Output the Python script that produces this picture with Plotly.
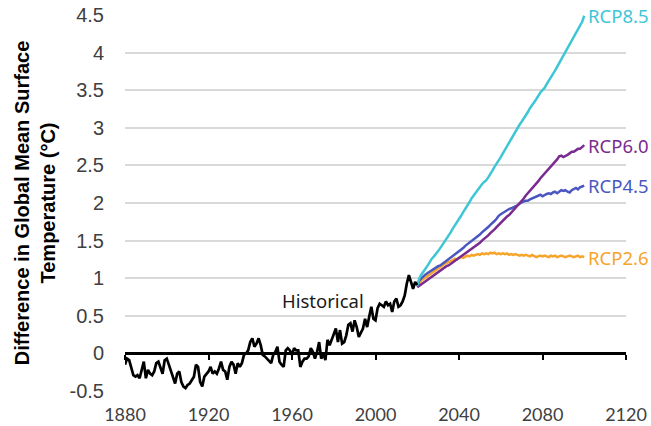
import plotly.graph_objects as go

# Observed global mean surface temperature anomaly, 1880-2020 (°C)
hist_years = list(range(1880, 2021))
hist_temp = [
    -0.15, -0.07, -0.09, -0.18, -0.29, -0.31, -0.29, -0.33, -0.20, -0.11,
    -0.33, -0.22, -0.27, -0.29, -0.24, -0.13, -0.11, -0.18, -0.27, -0.09,
    -0.07, -0.15, -0.24, -0.31, -0.40, -0.27, -0.24, -0.38, -0.44, -0.46,
    -0.42, -0.40, -0.35, -0.31, -0.15, -0.18, -0.38, -0.44, -0.31, -0.27,
    -0.24, -0.18, -0.27, -0.24, -0.27, -0.20, -0.11, -0.22, -0.24, -0.35,
    -0.18, -0.11, -0.15, -0.27, -0.13, -0.18, -0.13, -0.02, 0.00, 0.04,
    0.15, 0.20, 0.09, 0.13, 0.20, 0.11, -0.02, -0.04, -0.07, -0.09,
    -0.13, -0.02, 0.02, 0.09, -0.11, -0.15, -0.18, 0.04, 0.07, 0.04,
    -0.02, 0.07, 0.04, 0.04, -0.18, -0.11, -0.07, -0.07, -0.04, 0.07,
    0.02, -0.07, 0.02, 0.15, -0.07, 0.00, -0.09, 0.18, 0.11, 0.18,
    0.27, 0.33, 0.15, 0.31, 0.13, 0.15, 0.24, 0.38, 0.40, 0.29,
    0.44, 0.35, 0.22, 0.27, 0.33, 0.46, 0.35, 0.49, 0.62, 0.46,
    0.44, 0.60, 0.66, 0.64, 0.62, 0.69, 0.64, 0.66, 0.55, 0.69,
    0.73, 0.62, 0.64, 0.69, 0.77, 0.93, 1.04, 0.95, 0.86, 0.95,
    0.91,
]

# Projections under the four RCP pathways, 2020-2100 (°C)
proj_years = list(range(2020, 2101))
rcp85 = [
    0.90, 1.00, 1.05, 1.10, 1.13, 1.17, 1.22, 1.26, 1.29, 1.32,
    1.36, 1.40, 1.44, 1.48, 1.53, 1.57, 1.61, 1.66, 1.70, 1.75,
    1.79, 1.83, 1.88, 1.92, 1.97, 2.01, 2.06, 2.10, 2.14, 2.18,
    2.22, 2.25, 2.28, 2.30, 2.34, 2.38, 2.43, 2.48, 2.52, 2.56,
    2.61, 2.66, 2.71, 2.76, 2.81, 2.85, 2.89, 2.94, 2.99, 3.04,
    3.08, 3.12, 3.17, 3.21, 3.26, 3.31, 3.34, 3.38, 3.43, 3.47,
    3.50, 3.53, 3.58, 3.63, 3.67, 3.72, 3.76, 3.81, 3.86, 3.91,
    3.96, 4.01, 4.05, 4.11, 4.16, 4.21, 4.27, 4.32, 4.37, 4.41,
    4.49,
]
rcp60 = [
    0.88, 0.90, 0.93, 0.95, 0.97, 0.99, 1.01, 1.03, 1.05, 1.07,
    1.09, 1.10, 1.12, 1.14, 1.16, 1.17, 1.19, 1.21, 1.22, 1.24,
    1.26, 1.28, 1.30, 1.32, 1.34, 1.36, 1.38, 1.41, 1.43, 1.45,
    1.47, 1.50, 1.52, 1.55, 1.57, 1.60, 1.62, 1.65, 1.68, 1.71,
    1.74, 1.77, 1.79, 1.82, 1.84, 1.87, 1.90, 1.93, 1.96, 2.00,
    2.03, 2.06, 2.10, 2.13, 2.16, 2.20, 2.23, 2.26, 2.29, 2.33,
    2.36, 2.39, 2.42, 2.45, 2.48, 2.51, 2.55, 2.58, 2.62, 2.63,
    2.61, 2.62, 2.64, 2.66, 2.68, 2.68, 2.70, 2.72, 2.72, 2.75,
    2.77,
]
rcp45 = [
    0.90, 0.97, 1.00, 1.03, 1.05, 1.07, 1.09, 1.11, 1.12, 1.14,
    1.16, 1.17, 1.19, 1.21, 1.23, 1.25, 1.27, 1.30, 1.32, 1.34,
    1.36, 1.38, 1.40, 1.43, 1.45, 1.47, 1.50, 1.52, 1.54, 1.56,
    1.58, 1.61, 1.63, 1.66, 1.68, 1.71, 1.73, 1.76, 1.79, 1.83,
    1.85, 1.87, 1.89, 1.90, 1.92, 1.93, 1.94, 1.95, 1.97, 1.99,
    2.01, 2.02, 2.03, 2.03, 2.05, 2.06, 2.08, 2.09, 2.10, 2.11,
    2.09, 2.11, 2.12, 2.13, 2.12, 2.14, 2.15, 2.13, 2.15, 2.17,
    2.16, 2.17, 2.15, 2.14, 2.17, 2.19, 2.20, 2.18, 2.21, 2.22,
    2.23,
]
rcp26 = [
    0.90, 0.94, 0.97, 0.99, 1.01, 1.03, 1.05, 1.07, 1.09, 1.12,
    1.14, 1.15, 1.17, 1.19, 1.20, 1.21, 1.23, 1.24, 1.26, 1.25,
    1.27, 1.28, 1.27, 1.28, 1.30, 1.29, 1.31, 1.30, 1.31, 1.32,
    1.31, 1.33, 1.32, 1.33, 1.32, 1.34, 1.33, 1.34, 1.32, 1.33,
    1.32, 1.33, 1.32, 1.33, 1.31, 1.32, 1.31, 1.32, 1.31, 1.30,
    1.31, 1.30, 1.31, 1.30, 1.29, 1.31, 1.30, 1.28, 1.29, 1.30,
    1.29, 1.30, 1.29, 1.28, 1.30, 1.29, 1.30, 1.28, 1.29, 1.30,
    1.29, 1.28, 1.29, 1.30, 1.29, 1.28, 1.29, 1.30, 1.28, 1.29,
    1.28,
]

scenarios = [
    ("RCP8.5", rcp85, "#3fc6d6"),
    ("RCP6.0", rcp60, "#7a2b8f"),
    ("RCP4.5", rcp45, "#4a57c1"),
    ("RCP2.6", rcp26, "#f7a42a"),
]

x_ticks = [1880, 1920, 1960, 2000, 2040, 2080, 2120]
y_ticks = [-0.5, 0, 0.5, 1, 1.5, 2, 2.5, 3, 3.5, 4, 4.5]
y_tick_text = ["-0.5", "0", "0.5", "1", "1.5", "2", "2.5", "3", "3.5", "4", "4.5"]

label_font = "Noto Sans"
x_range = [1880, 2120]

fig = go.Figure()

# Projections on the labelled bottom axis
for name, values, color in reversed(scenarios):
    fig.add_trace(go.Scatter(
        x=proj_years, y=values, mode="lines", name=name,
        line=dict(color=color, width=2.5), showlegend=False,
    ))

# Observed record on the overlaid axis that crosses at zero
fig.add_trace(go.Scatter(
    x=hist_years, y=hist_temp, mode="lines", name="Historical",
    line=dict(color="#000000", width=2.7), showlegend=False,
    xaxis="x2", yaxis="y",
))

# End-of-line scenario labels
for name, values, color in scenarios:
    fig.add_annotation(
        x=proj_years[-1] + 1, y=values[-1], text=name, showarrow=False,
        xanchor="left", yanchor="middle", bgcolor="white",
        font=dict(family=label_font, size=18.5, color=color),
    )

fig.add_annotation(
    x=1975, y=0.71, text="Historical", showarrow=False,
    xanchor="center", yanchor="middle",
    font=dict(family=label_font, size=18.5, color="#1a1a1a"),
)

fig.update_layout(
    width=651, height=426,
    margin=dict(l=125, r=25, t=15, b=35),
    plot_bgcolor="white", paper_bgcolor="white",
    xaxis=dict(
        range=x_range, tickvals=x_ticks, showgrid=False, zeroline=False,
        showline=False, ticks="", ticklabelstandoff=11, automargin=False,
        tickfont=dict(family="Lato", size=18, color="#404040"),
    ),
    # Horizontal axis line crossing at y = 0, with tick marks
    xaxis2=dict(
        range=x_range, overlaying="x", anchor="free", position=0.1,
        tickvals=x_ticks, showticklabels=False, showgrid=False, zeroline=False,
        showline=True, linecolor="#000000", linewidth=2.5, automargin=False,
        ticks="outside", ticklen=5, tickwidth=2, tickcolor="#000000",
    ),
    yaxis=dict(
        range=[-0.5, 4.5], tickvals=y_ticks, ticktext=y_tick_text,
        showgrid=True, gridcolor="#d9d9d9", gridwidth=1.5, automargin=False,
        zeroline=False, showline=False, ticks="", ticklabelstandoff=20,
        tickfont=dict(family="Liberation Sans", size=20, color="#404040"),
        title=dict(
            text="<b>Difference in Global Mean Surface<br>Temperature (°C)</b>",
            font=dict(family="Liberation Sans", size=20, color="#000000"),
            standoff=8,
        ),
    ),
)

fig.write_html("out.html")
